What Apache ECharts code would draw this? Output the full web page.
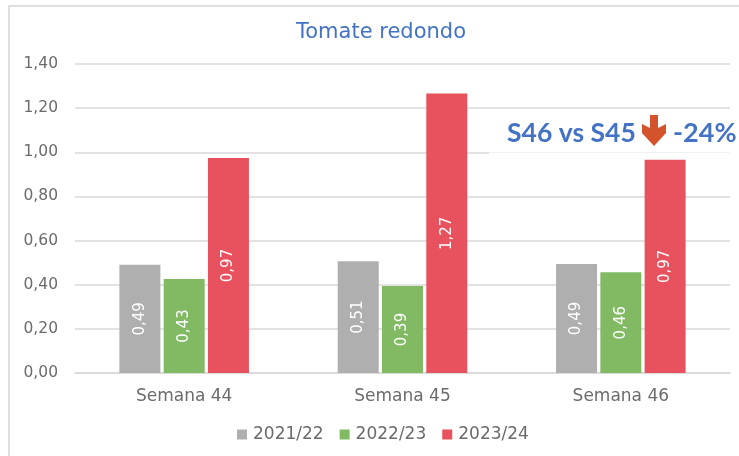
<!DOCTYPE html>
<html lang="en">
<head>
    <meta charset="UTF-8">
    <title>Tomate redondo</title>
    <style>
        html, body { margin: 0; padding: 0; background: #fff; }
        #main { width: 739px; height: 456px; }
    </style>
    <script src="https://cdn.jsdelivr.net/npm/echarts@6/dist/echarts.min.js"></script>
</head>
<body>
<div id="main"></div>
<script>
    var weeks = ["Semana 44", "Semana 45", "Semana 46"];
    var seasons = ["2021/22", "2022/23", "2023/24"];
    var values2122 = [0.491, 0.506, 0.494];
    var values2223 = [0.426, 0.394, 0.456];
    var values2324 = [0.974, 1.266, 0.966];
    var colors = ["#afafaf", "#82ba64", "#e8525e"];

    var fontName = "DejaVu Sans";
    var noteFont = "Lato";
    var textColor = "#6b6b6b";
    function comma(v) { return v.toFixed(2).replace(".", ","); }

    function barSeries(i, data) {
        return {
            name: seasons[i],
            type: "bar",
            data: data,
            barWidth: 41,
            barGap: "8%",
            itemStyle: { color: colors[i] },
            label: {
                show: true,
                position: "inside",
                rotate: 90,
                color: "#fff",
                fontFamily: fontName,
                fontSize: 15,
                formatter: function (p) { return comma(p.value); }
            }
        };
    }

    var chart = echarts.init(document.getElementById("main"));
    chart.setOption({
        animation: false,
        backgroundColor: "#fff",
        title: {
            text: "Tomate redondo",
            left: 376,
            top: 17,
            textAlign: "center",
            textStyle: { color: "#4472c4", fontFamily: fontName, fontWeight: "normal", fontSize: 21 }
        },
        legend: {
            data: seasons,
            left: 232,
            top: 421,
            icon: "rect",
            itemWidth: 10,
            itemHeight: 10,
            itemGap: 16,
            textStyle: { color: textColor, fontFamily: fontName, fontSize: 17, padding: [0, 0, 0, 1] }
        },
        grid: { left: 75, right: 9, top: 64, bottom: 83 },
        xAxis: {
            type: "category",
            data: weeks,
            axisTick: { show: false },
            axisLine: { lineStyle: { color: "#d9d9d9", width: 1.5 } },
            axisLabel: { color: textColor, fontFamily: fontName, fontSize: 17, margin: 15 }
        },
        yAxis: {
            type: "value",
            min: 0,
            max: 1.4,
            interval: 0.2,
            axisLine: { show: false },
            axisTick: { show: false },
            splitLine: { lineStyle: { color: "#d9d9d9", width: 1.5 } },
            axisLabel: {
                color: textColor, fontFamily: fontName, fontSize: 15.5, margin: 17,
                formatter: comma
            }
        },
        series: [barSeries(0, values2122), barSeries(1, values2223), barSeries(2, values2324)],
        graphic: [
            // outer chart frame
            { type: "rect", z: 0, shape: { x: 9, y: 6, width: 740, height: 460 },
              style: { fill: "none", stroke: "#dedede", lineWidth: 2 } },
            // pasted note that hides the gridline
            { type: "rect", z: 10, shape: { x: 489, y: 118, width: 250, height: 36 }, style: { fill: "#fff" } },
            { type: "rect", z: 10, shape: { x: 489, y: 152, width: 241, height: 1 }, style: { fill: "#f1f1f1" } },
            { type: "text", z: 11, x: 507, y: 133,
              style: { text: "S46 vs S45", fill: "#4472c4", fontFamily: noteFont, fontWeight: "bold", fontSize: 26.5, textVerticalAlign: "middle" } },
            { type: "polygon", z: 11,
              shape: { points: [[650, 115], [658, 115], [658, 128], [666, 124], [666, 133], [654, 146], [642, 133], [642, 124], [650, 128]] },
              style: { fill: "#d4532b" } },
            { type: "text", z: 11, x: 673, y: 133,
              style: { text: "-24%", fill: "#4472c4", fontFamily: noteFont, fontWeight: "bold", fontSize: 27, textVerticalAlign: "middle" } }
        ]
    });
</script>
</body>
</html>
